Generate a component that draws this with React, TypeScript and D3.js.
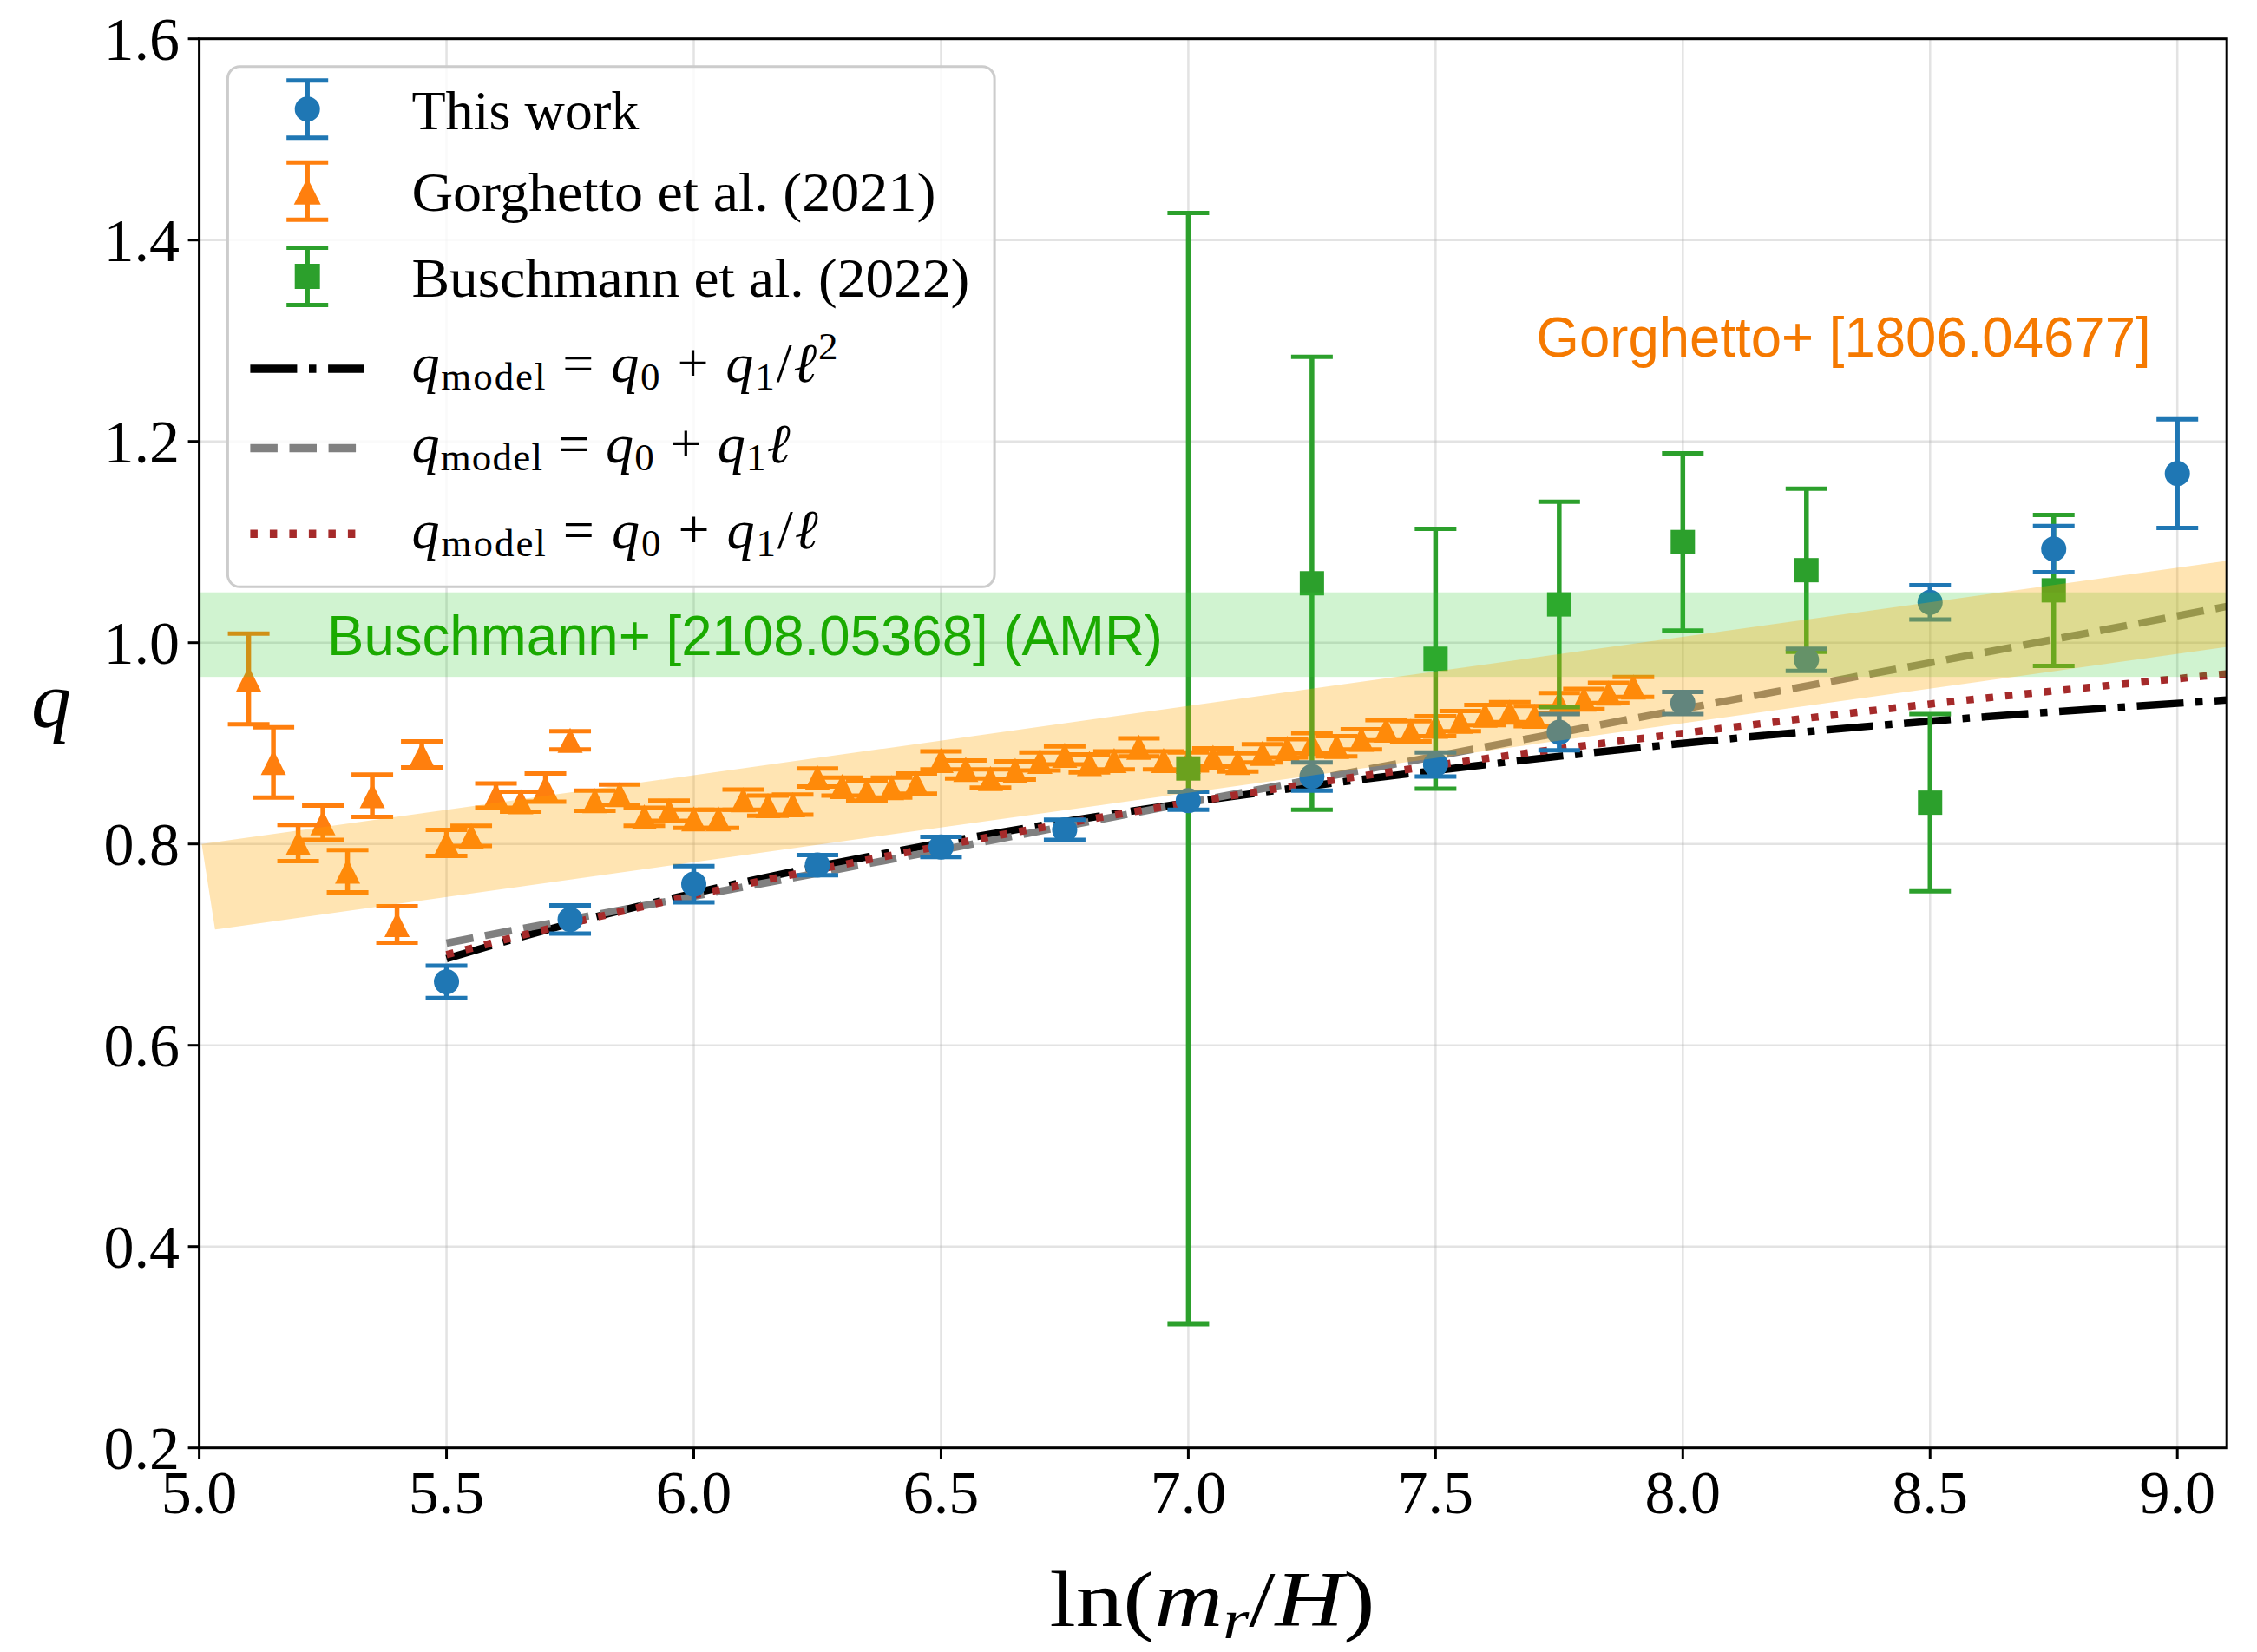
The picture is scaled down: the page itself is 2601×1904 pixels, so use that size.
import React from 'react';
import * as d3 from 'd3';

const W = 2601;
const H = 1904;
const PLOT = { left: 229.6, right: 2566.2, top: 44.7, bottom: 1668.7 };

const xTicks = [5.0, 5.5, 6.0, 6.5, 7.0, 7.5, 8.0, 8.5, 9.0];
const yTicks = [0.2, 0.4, 0.6, 0.8, 1.0, 1.2, 1.4, 1.6];

// This work
const thisWorkX = [5.5, 5.75, 6.0, 6.25, 6.5, 6.75, 7.0, 7.25, 7.5, 7.75, 8.0, 8.25, 8.5, 8.75, 9.0];
const thisWorkQ = [0.663, 0.725, 0.760, 0.779, 0.797, 0.814, 0.843, 0.867, 0.879, 0.911, 0.940, 0.983, 1.040, 1.093, 1.168];
const thisWorkErr = [0.016, 0.014, 0.018, 0.010, 0.010, 0.010, 0.009, 0.014, 0.012, 0.018, 0.011, 0.011, 0.017, 0.023, 0.054];

// Gorghetto et al. (2021)
const gorX = [5.10, 5.15, 5.20, 5.25, 5.30, 5.35, 5.40, 5.45, 5.50, 5.55, 5.60, 5.65, 5.70, 5.75, 5.80, 5.85, 5.90, 5.95,
  6.00, 6.05, 6.10, 6.15, 6.20, 6.25, 6.30, 6.35, 6.40, 6.45, 6.50, 6.55, 6.60, 6.65, 6.70, 6.75, 6.80, 6.85, 6.90, 6.95,
  7.00, 7.05, 7.10, 7.15, 7.20, 7.25, 7.30, 7.35, 7.40, 7.45, 7.50, 7.55, 7.60, 7.65, 7.70, 7.75, 7.80, 7.85, 7.90];
const gorQ = [0.964, 0.881, 0.801, 0.821, 0.773, 0.848, 0.720, 0.889, 0.801, 0.808, 0.848, 0.842, 0.856, 0.903, 0.843, 0.849, 0.827, 0.833,
  0.825, 0.825, 0.844, 0.838, 0.839, 0.866, 0.857, 0.853, 0.856, 0.860, 0.883, 0.874, 0.865, 0.873, 0.882, 0.888, 0.880, 0.883, 0.896, 0.883,
  0.882, 0.886, 0.881, 0.890, 0.895, 0.900, 0.897, 0.904, 0.913, 0.912, 0.917, 0.922, 0.928, 0.931, 0.927, 0.940, 0.944, 0.950, 0.956];
const gorErr = [0.045, 0.035, 0.018, 0.017, 0.021, 0.021, 0.018, 0.013, 0.013, 0.010, 0.012, 0.010, 0.014, 0.009, 0.010, 0.010, 0.009, 0.010,
  0.009, 0.009, 0.010, 0.010, 0.010, 0.009, 0.009, 0.010, 0.010, 0.010, 0.009, 0.009, 0.009, 0.009, 0.009, 0.009, 0.009, 0.009, 0.009, 0.009,
  0.009, 0.009, 0.009, 0.009, 0.009, 0.010, 0.010, 0.010, 0.010, 0.010, 0.010, 0.010, 0.010, 0.010, 0.010, 0.010, 0.010, 0.010, 0.010];

// Buschmann et al. (2022)
const busX = [7.0, 7.25, 7.5, 7.75, 8.0, 8.25, 8.5, 8.75];
const busQ = [0.875, 1.059, 0.984, 1.038, 1.100, 1.072, 0.841, 1.052];
const busErr = [0.552, 0.225, 0.129, 0.102, 0.088, 0.081, 0.088, 0.075];

// model curves
const modelX = [5.5, 5.75, 6.0, 6.5, 7.0, 7.5, 8.0, 8.5, 9.1];
const modelInvSq = [0.686, 0.721, 0.751, 0.801, 0.841, 0.873, 0.900, 0.922, 0.943];
const modelLin = [0.7015, 0.725, 0.748, 0.794, 0.841, 0.887, 0.934, 0.980, 1.036];
const modelInv = [0.690, 0.721, 0.749, 0.798, 0.841, 0.878, 0.910, 0.939, 0.969];

// bands
const amrBand = [0.966, 1.050];
const gorBandUpperX = [5.005, 9.11];
const gorBandUpperQ = [0.800, 1.082];
const gorBandLowerX = [5.032, 9.11];
const gorBandLowerQ = [0.715, 0.9965];

const BLUE = '#1f77b4';
const ORANGE = '#ff7f0e';
const GREEN = '#2ca02c';
const SERIF = '"Liberation Serif", "DejaVu Serif", serif';
const SANS = '"Liberation Sans", Arial, sans-serif';

const x = d3.scaleLinear().domain([5.0, 9.1]).range([PLOT.left, PLOT.right]);
const y = d3.scaleLinear().domain([0.2, 1.6]).range([PLOT.bottom, PLOT.top]);

const CAP = 24;
const EBW = 5.5;

function triPath(cx: number, cy: number, s: number) {
  return `M${cx},${cy - s}L${cx + s},${cy + s}L${cx - s},${cy + s}Z`;
}

function ErrSeries({ xs, qs, es, color, marker }: { xs: number[]; qs: number[]; es: number[]; color: string; marker: string }) {
  return (
    <g>
      {xs.map((xv, i) => {
        const cx = x(xv);
        const y1 = y(qs[i] + es[i]);
        const y2 = y(qs[i] - es[i]);
        const cy = y(qs[i]);
        return (
          <g key={i}>
            <line x1={cx} x2={cx} y1={y1} y2={y2} stroke={color} strokeWidth={EBW} />
            <line x1={cx - CAP} x2={cx + CAP} y1={y1} y2={y1} stroke={color} strokeWidth={5} />
            <line x1={cx - CAP} x2={cx + CAP} y1={y2} y2={y2} stroke={color} strokeWidth={5} />
            {marker === 'o' && <circle cx={cx} cy={cy} r={14.5} fill={color} />}
            {marker === '^' && <path d={triPath(cx, cy, 14.5)} fill={color} />}
            {marker === 's' && <rect x={cx - 14} y={cy - 14} width={28} height={28} fill={color} />}
          </g>
        );
      })}
    </g>
  );
}

function LegendErr({ cx, cy, color, marker }: { cx: number; cy: number; color: string; marker: string }) {
  const half = 33;
  return (
    <g>
      <line x1={cx} x2={cx} y1={cy - half} y2={cy + half} stroke={color} strokeWidth={EBW} />
      <line x1={cx - CAP} x2={cx + CAP} y1={cy - half} y2={cy - half} stroke={color} strokeWidth={5} />
      <line x1={cx - CAP} x2={cx + CAP} y1={cy + half} y2={cy + half} stroke={color} strokeWidth={5} />
      {marker === 'o' && <circle cx={cx} cy={cy} r={14.5} fill={color} />}
      {marker === '^' && <path d={triPath(cx, cy, 15.5)} fill={color} />}
      {marker === 's' && <rect x={cx - 14.5} y={cy - 14.5} width={29} height={29} fill={color} />}
    </g>
  );
}

function MathLegend({ xPos, base, kind, len }: { xPos: number; base: number; kind: string; len: number }) {
  const fs = 64;
  const sub = 45;
  return (
    <text x={xPos} y={base} fontFamily={SERIF} fontSize={fs} fill="#000" style={{ whiteSpace: 'pre' }} textLength={len} lengthAdjust="spacing">
      <tspan fontStyle="italic">q</tspan>
      <tspan fontSize={sub} dy={9}>model</tspan>
      <tspan dy={-9}> = </tspan>
      <tspan fontStyle="italic">q</tspan>
      <tspan fontSize={sub} dy={9}>0</tspan>
      <tspan dy={-9}> + </tspan>
      <tspan fontStyle="italic">q</tspan>
      <tspan fontSize={sub} dy={9}>1</tspan>
      {kind === 'invsq' && (
        <>
          <tspan dy={-9}>/</tspan>
          <tspan fontStyle="italic">ℓ</tspan>
          <tspan fontSize={sub} dy={-26}>2</tspan>
        </>
      )}
      {kind === 'lin' && <tspan dy={-9} fontStyle="italic">ℓ</tspan>}
      {kind === 'inv' && (
        <>
          <tspan dy={-9}>/</tspan>
          <tspan fontStyle="italic">ℓ</tspan>
        </>
      )}
    </text>
  );
}

export default function App() {
  const line = d3
    .line<number>()
    .x((_, i) => x(modelX[i]))
    .curve(d3.curveMonotoneX);

  const lineInvSq = line.y((v) => y(v))(modelInvSq) || '';
  const lineLin = line.y((v) => y(v))(modelLin) || '';
  const lineInv = line.y((v) => y(v))(modelInv) || '';

  const bandPath =
    `M${x(gorBandUpperX[0])},${y(gorBandUpperQ[0])}` +
    `L${x(gorBandUpperX[1])},${y(gorBandUpperQ[1])}` +
    `L${x(gorBandLowerX[1])},${y(gorBandLowerQ[1])}` +
    `L${x(gorBandLowerX[0])},${y(gorBandLowerQ[0])}Z`;

  const lw = 8.5;

  return (
    <svg width={W} height={H} style={{ position: 'absolute', left: 0, top: 0, background: '#fff' }} xmlns="http://www.w3.org/2000/svg">
      <defs>
        <clipPath id="plotclip">
          <rect x={PLOT.left} y={PLOT.top} width={PLOT.right - PLOT.left} height={PLOT.bottom - PLOT.top} />
        </clipPath>
      </defs>
      <rect x={0} y={0} width={W} height={H} fill="#fff" />

      {/* grid */}
      <g stroke="#b0b0b0" strokeOpacity={0.35} strokeWidth={2.5}>
        {xTicks.map((t) => (
          <line key={'gx' + t} x1={x(t)} x2={x(t)} y1={PLOT.top} y2={PLOT.bottom} />
        ))}
        {yTicks.map((t) => (
          <line key={'gy' + t} x1={PLOT.left} x2={PLOT.right} y1={y(t)} y2={y(t)} />
        ))}
      </g>

      <g clipPath="url(#plotclip)">
        {/* model lines */}
        <path d={lineInvSq} fill="none" stroke="#000" strokeWidth={lw} strokeDasharray="54,13.6,8.5,13.6" />
        <path d={lineLin} fill="none" stroke="#808080" strokeWidth={lw} strokeDasharray="31.5,13.6" />
        <path d={lineInv} fill="none" stroke="#a52a2a" strokeWidth={lw} strokeDasharray="8.5,14" />

        {/* data */}
        <ErrSeries xs={gorX} qs={gorQ} es={gorErr} color={ORANGE} marker="^" />
        <ErrSeries xs={busX} qs={busQ} es={busErr} color={GREEN} marker="s" />
        <ErrSeries xs={thisWorkX} qs={thisWorkQ} es={thisWorkErr} color={BLUE} marker="o" />

        {/* bands */}
        <rect
          x={PLOT.left}
          width={PLOT.right - PLOT.left}
          y={y(amrBand[1])}
          height={y(amrBand[0]) - y(amrBand[1])}
          fill="#32cd32"
          fillOpacity={0.23}
        />
        <path d={bandPath} fill="#ffa500" fillOpacity={0.3} />
      </g>

      {/* spines */}
      <rect x={PLOT.left} y={PLOT.top} width={PLOT.right - PLOT.left} height={PLOT.bottom - PLOT.top} fill="none" stroke="#000" strokeWidth={3} />

      {/* ticks */}
      <g stroke="#000" strokeWidth={3}>
        {xTicks.map((t) => (
          <line key={'tx' + t} x1={x(t)} x2={x(t)} y1={PLOT.bottom} y2={PLOT.bottom + 13} />
        ))}
        {yTicks.map((t) => (
          <line key={'ty' + t} x1={PLOT.left - 13} x2={PLOT.left} y1={y(t)} y2={y(t)} />
        ))}
      </g>
      <g fontFamily={SERIF} fontSize={70} fill="#000">
        {xTicks.map((t) => (
          <text key={'lx' + t} x={x(t)} y={1744} textAnchor="middle">
            {t.toFixed(1)}
          </text>
        ))}
        {yTicks.map((t) => (
          <text key={'ly' + t} x={207} y={y(t) + 24} textAnchor="end">
            {t.toFixed(1)}
          </text>
        ))}
      </g>

      {/* axis labels */}
      <text x={1397} y={1874} fontFamily={SERIF} fontSize={90} textAnchor="middle" textLength={375} lengthAdjust="spacingAndGlyphs">
        <tspan>ln(</tspan>
        <tspan fontStyle="italic">m</tspan>
        <tspan fontStyle="italic" fontSize={64} dy={14}>r</tspan>
        <tspan dy={-14}>/</tspan>
        <tspan fontStyle="italic">H</tspan>
        <tspan>)</tspan>
      </text>
      <text x={59} y={838} fontFamily={SERIF} fontSize={92} fontStyle="italic" textAnchor="middle">
        q
      </text>

      {/* annotations */}
      <text x={377} y={754.5} fontFamily={SANS} fontSize={64} fill="#1aaa00" textLength={963} lengthAdjust="spacingAndGlyphs">
        Buschmann+ [2108.05368] (AMR)
      </text>
      <text x={1770.6} y={411} fontFamily={SANS} fontSize={64} fill="#f57900" textLength={708} lengthAdjust="spacingAndGlyphs">
        Gorghetto+ [1806.04677]
      </text>

      {/* legend */}
      <g>
        <rect x={262.4} y={76.8} width={883.7} height={599.5} rx={14} ry={14} fill="#fff" fillOpacity={0.8} stroke="#cccccc" strokeWidth={3} />
        <LegendErr cx={354.2} cy={125.7} color={BLUE} marker="o" />
        <LegendErr cx={354.2} cy={220.3} color={ORANGE} marker="^" />
        <LegendErr cx={354.2} cy={318.5} color={GREEN} marker="s" />
        <line x1={288.4} x2={420} y1={425} y2={425} stroke="#000" strokeWidth={lw + 1} strokeDasharray="54,13.6,8.5,13.6" />
        <line x1={288.4} x2={420} y1={516.5} y2={516.5} stroke="#808080" strokeWidth={lw + 1} strokeDasharray="31.5,13.6" />
        <line x1={288.4} x2={420} y1={615.2} y2={615.2} stroke="#a52a2a" strokeWidth={lw + 1} strokeDasharray="8.5,14" />
        <g fontFamily={SERIF} fontSize={64} fill="#000">
          <text x={474.4} y={148.5} textLength={262} lengthAdjust="spacingAndGlyphs">This work</text>
          <text x={474.4} y={243.3} textLength={604} lengthAdjust="spacingAndGlyphs">Gorghetto et al. (2021)</text>
          <text x={474.4} y={341.5} textLength={643} lengthAdjust="spacingAndGlyphs">Buschmann et al. (2022)</text>
        </g>
        <MathLegend xPos={474.4} base={440} kind="invsq" len={491} />
        <MathLegend xPos={474.4} base={533} kind="lin" len={436} />
        <MathLegend xPos={474.4} base={632} kind="inv" len={468} />
      </g>
    </svg>
  );
}
